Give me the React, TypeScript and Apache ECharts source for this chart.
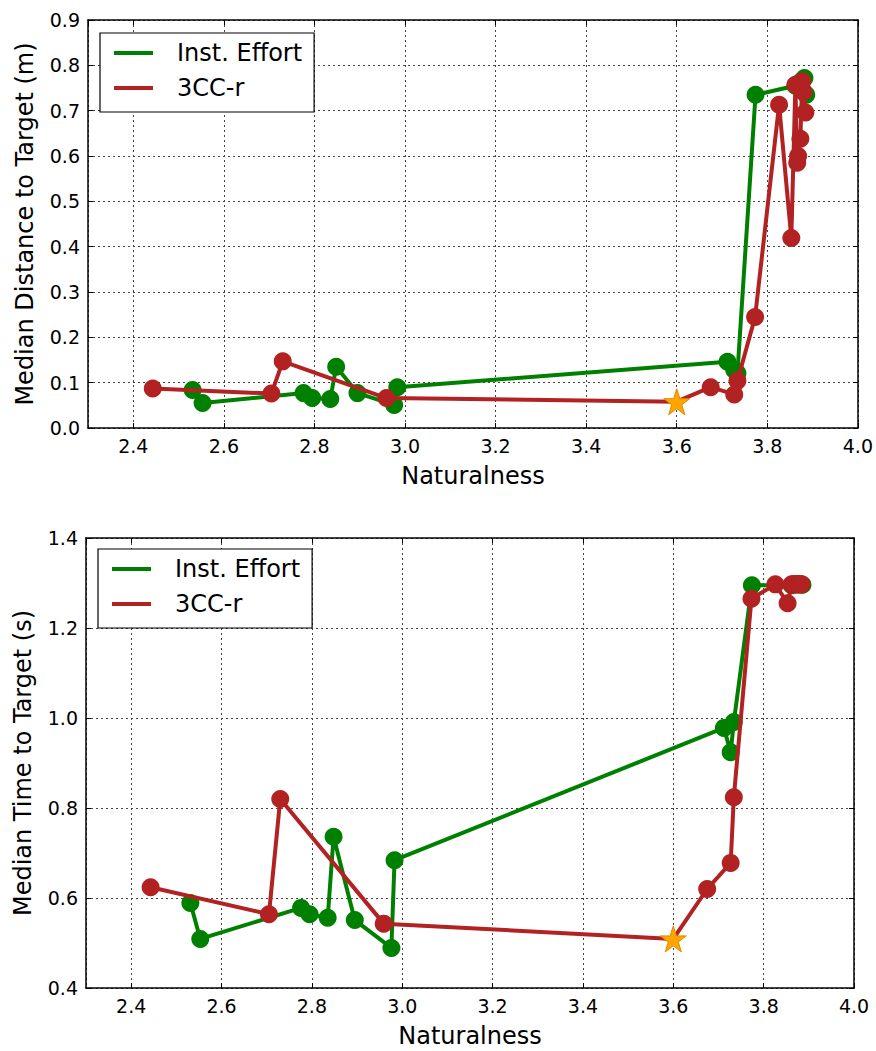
import React, { useEffect, useRef } from "react";
import * as echarts from "echarts";

// ---- Data ----
const instNaturalness = [2.531, 2.553, 2.776, 2.795, 2.835, 2.848, 2.895, 2.976, 2.983, 3.712, 3.727, 3.734, 3.774, 3.862, 3.875, 3.882, 3.886];
const instDistance = [0.084, 0.055, 0.077, 0.066, 0.064, 0.135, 0.077, 0.051, 0.090, 0.146, 0.128, 0.121, 0.735, 0.755, 0.765, 0.772, 0.735];
const instTime = [0.589, 0.509, 0.578, 0.564, 0.556, 0.736, 0.551, 0.489, 0.684, 0.978, 0.924, 0.991, 1.295, 1.295, 1.297, 1.297, 1.296];

const ccNaturalness = [2.443, 2.705, 2.730, 2.959, 3.600, 3.675, 3.727, 3.734, 3.773, 3.826, 3.853, 3.862, 3.866, 3.868, 3.873, 3.877, 3.880, 3.884];
const ccDistance = [0.087, 0.076, 0.147, 0.066, 0.058, 0.090, 0.074, 0.104, 0.245, 0.713, 0.419, 0.757, 0.585, 0.600, 0.638, 0.765, 0.742, 0.696];
const ccTime = [0.624, 0.564, 0.820, 0.543, 0.509, 0.620, 0.678, 0.824, 1.265, 1.297, 1.255, 1.297, 1.297, 1.297, 1.297, 1.297, 1.297, 1.297];
const starIndex = 4; // highlighted 3CC-r configuration

const seriesNames = ["Inst. Effort", "3CC-r"];
const xAxisTitle = "Naturalness";
const yAxisTitles = ["Median Distance to Target (m)", "Median Time to Target (s)"];
const xRange = [2.3, 4.0];
const yRanges = [
  [0, 0.9, 0.1],
  [0.4, 1.4, 0.2],
];

const GREEN = "#008000";
const RED = "#b22222";
const FONT = "DejaVu Sans";
const STAR =
  "path://M50,2 L61.8,37.6 L99,37.6 L69,59.6 L80.4,95 L50,73.2 L19.6,95 L31,59.6 L1,37.6 L38.2,37.6 Z";

function xFmt(v: number) {
  return Math.abs(v * 5 - Math.round(v * 5)) < 1e-6 ? v.toFixed(1) : "";
}

export default function App() {
  const ref = useRef<HTMLDivElement>(null);

  useEffect(() => {
    if (!ref.current) return;
    const chart = echarts.init(ref.current, null, { renderer: "svg" });

    const grids = [
      { left: 88, top: 20, width: 772, height: 408 },
      { left: 86, top: 538, width: 768, height: 450 },
    ];

    const axisLine = { show: true, onZero: false, lineStyle: { color: "#000", width: 1.5 } };
    const axisTick = { show: true, inside: true, length: 5, lineStyle: { color: "#000", width: 1 } };
    const splitLine = { show: true, lineStyle: { color: "#444", width: 1, type: [2, 3] as any } };

    const xAxes: any[] = [];
    const yAxes: any[] = [];
    grids.forEach((_, g) => {
      xAxes.push({
        gridIndex: g,
        type: "value",
        min: xRange[0],
        max: xRange[1],
        splitNumber: 8,
        position: "bottom",
        axisLine,
        axisTick,
        splitLine,
        axisLabel: {
          formatter: xFmt,
          showMinLabel: false,
          color: "#000",
          fontSize: 19,
          fontFamily: FONT,
          margin: 8,
        },
        name: xAxisTitle,
        nameLocation: "middle",
        nameGap: 36,
        nameTextStyle: { color: "#000", fontSize: 24, fontFamily: FONT },
      });
      xAxes.push({
        gridIndex: g,
        type: "value",
        min: xRange[0],
        max: xRange[1],
        splitNumber: 8,
        position: "top",
        axisLine,
        axisTick,
        splitLine: { show: false },
        axisLabel: { show: false },
      });
      const [ymin, ymax, yint] = yRanges[g];
      yAxes.push({
        gridIndex: g,
        type: "value",
        min: ymin,
        max: ymax,
        interval: yint,
        position: "left",
        axisLine,
        axisTick,
        splitLine,
        axisLabel: {
          formatter: (v: number) => v.toFixed(1),
          color: "#000",
          fontSize: 19,
          fontFamily: FONT,
          margin: 8,
        },
        name: yAxisTitles[g],
        nameLocation: "middle",
        nameGap: 51,
        nameTextStyle: { color: "#000", fontSize: 24, fontFamily: FONT },
      });
      yAxes.push({
        gridIndex: g,
        type: "value",
        min: ymin,
        max: ymax,
        interval: yint,
        position: "right",
        axisLine,
        axisTick,
        splitLine: { show: false },
        axisLabel: { show: false },
      });
    });

    const mk = (name: string, xs: number[], ys: number[], color: string, g: number, star: boolean) => ({
      type: "line",
      name,
      xAxisIndex: g * 2,
      yAxisIndex: g * 2,
      symbol: "circle",
      symbolSize: 18,
      showSymbol: true,
      lineStyle: { color, width: 4 },
      itemStyle: { color },
      z: star ? 3 : 2,
      data: xs.map((x, i) =>
        star && i === starIndex
          ? {
              value: [x, ys[i]],
              symbol: STAR,
              symbolSize: 26,
              itemStyle: { color: "#FFA500", borderColor: "#E08A00", borderWidth: 1 },
            }
          : [x, ys[i]]
      ),
    });

    const series = [
      mk(seriesNames[0], instNaturalness, instDistance, GREEN, 0, false),
      mk(seriesNames[1], ccNaturalness, ccDistance, RED, 0, true),
      mk(seriesNames[0], instNaturalness, instTime, GREEN, 1, false),
      mk(seriesNames[1], ccNaturalness, ccTime, RED, 1, true),
    ];

    const legendBase = {
      orient: "vertical",
      data: seriesNames,
      icon: "rect",
      itemWidth: 39,
      itemHeight: 4,
      itemGap: 11,
      backgroundColor: "#fff",
      borderColor: "#000",
      borderWidth: 1.2,
      borderRadius: 0,
      padding: [8, 12, 12, 14],
      selectedMode: false,
      textStyle: { color: "#000", fontSize: 24, fontFamily: FONT, padding: [0, 0, 0, 19] },
    };

    chart.setOption({
      animation: false,
      backgroundColor: "#fff",
      textStyle: { fontFamily: FONT },
      grid: grids.map((g) => ({ ...g, show: false })),
      xAxis: xAxes,
      yAxis: yAxes,
      legend: [
        { ...legendBase, left: 100, top: 33 },
        { ...legendBase, left: 98, top: 549 },
      ],
      series,
    });

    return () => chart.dispose();
  }, []);

  return (
    <div
      ref={ref}
      style={{ position: "fixed", left: 0, top: 0, width: 876, height: 1051, background: "#fff" }}
    />
  );
}
